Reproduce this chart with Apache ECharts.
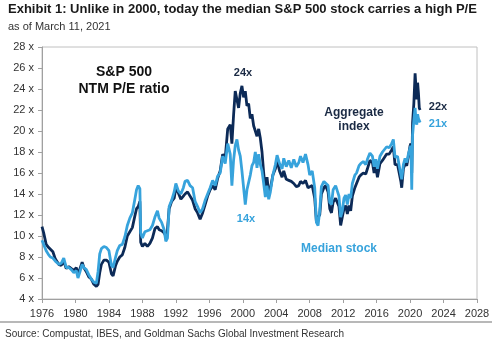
<!DOCTYPE html>
<html>
<head>
<meta charset="utf-8">
<script src="https://cdn.jsdelivr.net/npm/echarts@6/dist/echarts.min.js"></script>
<style>html,body{margin:0;padding:0;background:#fff;}#c{width:500px;height:341px;}</style>
</head>
<body>
<div id="c"></div>
<script>
const years = [1976.0,1976.2,1976.5,1976.8,1977.0,1977.3,1977.6,1978.0,1978.3,1978.6,1978.9,1979.2,1979.5,1979.8,1980.1,1980.3,1980.5,1980.8,1981.0,1981.3,1981.6,1981.9,1982.2,1982.5,1982.7,1982.9,1983.1,1983.4,1983.7,1984.0,1984.3,1984.5,1984.8,1985.0,1985.3,1985.6,1985.9,1986.2,1986.5,1986.8,1987.1,1987.3,1987.5,1987.7,1987.8,1988.0,1988.3,1988.6,1988.9,1989.2,1989.5,1989.8,1990.0,1990.3,1990.6,1990.8,1991.0,1991.2,1991.5,1991.8,1992.0,1992.3,1992.6,1992.9,1993.1,1993.4,1993.7,1994.0,1994.3,1994.6,1994.9,1995.2,1995.5,1995.8,1996.1,1996.4,1996.7,1997.0,1997.3,1997.6,1997.9,1998.2,1998.5,1998.7,1998.9,1999.1,1999.3,1999.5,1999.7,1999.9,2000.1,2000.3,2000.5,2000.7,2000.9,2001.1,2001.3,2001.5,2001.7,2001.9,2002.1,2002.3,2002.5,2002.7,2002.9,2003.1,2003.3,2003.6,2003.9,2004.1,2004.4,2004.7,2004.9,2005.2,2005.5,2005.8,2006.1,2006.4,2006.7,2006.9,2007.2,2007.5,2007.8,2008.0,2008.3,2008.6,2008.8,2009.0,2009.2,2009.4,2009.7,2009.9,2010.2,2010.4,2010.6,2010.8,2011.1,2011.3,2011.5,2011.7,2011.9,2012.1,2012.3,2012.5,2012.7,2012.9,2013.1,2013.4,2013.6,2013.9,2014.1,2014.4,2014.7,2014.9,2015.2,2015.5,2015.7,2015.9,2016.1,2016.4,2016.7,2016.9,2017.2,2017.5,2017.8,2018.0,2018.2,2018.5,2018.7,2018.9,2019.0,2019.2,2019.4,2019.6,2019.8,2020.0,2020.1,2020.2,2020.3,2020.45,2020.6,2020.7,2020.8,2020.9,2021.0,2021.1,2021.2];
const aggregateIndex = [10.9,10.3,9.2,8.9,9.0,8.5,7.8,7.3,7.2,7.6,6.9,7.1,6.9,6.7,7.0,6.3,6.8,7.5,7.0,6.6,6.1,5.9,5.4,5.2,5.4,6.5,7.3,7.7,7.7,7.5,6.4,6.2,7.2,7.6,8.0,8.2,8.9,10.0,10.4,10.8,11.9,12.6,12.8,13.3,9.4,9.0,9.3,9.0,9.3,9.8,10.7,10.9,10.6,10.5,10.3,10.0,10.6,12.6,13.3,13.6,14.6,14.1,13.5,13.8,14.0,14.2,13.8,13.4,12.6,12.2,11.6,12.2,13.0,13.8,14.4,14.8,14.4,15.5,16.2,17.8,17.4,20.2,20.6,18.8,21.5,23.8,23.0,22.2,23.6,24.3,23.2,23.8,22.4,22.6,21.2,21.6,20.5,20.6,19.5,20.2,19.3,18.0,16.0,14.4,15.6,14.0,14.5,15.8,16.4,17.2,16.2,15.6,16.2,15.4,15.3,15.2,15.0,14.7,14.8,15.2,15.0,15.3,14.6,14.5,14.8,13.6,11.4,11.8,12.0,14.0,14.6,14.8,14.2,12.6,12.2,13.2,13.6,13.6,12.8,11.0,11.8,12.6,12.9,12.1,12.9,12.4,13.8,14.6,15.0,15.6,15.8,16.0,15.9,16.4,17.2,17.0,16.0,16.6,15.6,16.9,17.2,17.3,17.8,17.8,18.2,18.5,16.8,16.8,16.9,15.2,14.6,16.4,16.9,16.7,17.6,18.6,18.8,16.0,20.8,22.6,25.5,24.2,23.0,24.6,23.6,22.2,22.0];
const medianStock = [9.6,9.2,8.6,8.2,8.0,7.9,7.6,7.3,7.4,7.9,7.0,7.0,6.8,6.5,6.7,6.0,6.5,7.3,7.0,6.8,6.3,5.9,5.6,5.5,6.6,8.3,8.8,9.0,8.9,8.6,7.2,7.0,8.0,8.6,9.1,9.2,9.9,11.0,11.7,12.2,13.5,14.4,14.8,14.5,10.3,9.8,10.4,10.5,10.6,11.0,11.8,12.4,11.7,11.3,10.6,9.5,9.8,12.8,13.4,14.2,15.0,14.3,14.0,14.6,15.2,15.3,14.8,14.6,13.3,12.8,12.2,12.6,13.4,14.0,14.6,15.3,14.8,15.7,16.0,17.6,16.9,18.8,17.8,14.8,17.2,18.6,19.2,18.2,17.6,16.2,14.6,13.0,14.4,14.4,15.8,16.7,17.0,18.0,16.5,17.8,16.8,16.2,15.0,13.7,14.8,13.5,14.2,15.8,16.8,17.7,16.9,16.4,17.4,16.6,17.2,16.5,17.3,16.6,17.0,17.6,17.0,17.8,16.8,15.8,16.2,14.6,11.3,11.0,12.4,14.7,15.2,15.3,14.8,13.2,13.0,14.4,14.8,14.9,13.8,11.8,12.4,13.6,13.9,13.0,14.0,13.6,15.0,15.8,16.0,16.7,16.9,17.1,16.8,17.3,17.9,17.6,16.6,17.3,16.4,17.6,18.0,18.1,18.5,18.4,18.8,19.2,17.5,17.6,17.5,15.8,15.4,16.8,17.4,17.0,17.8,18.4,18.6,14.4,19.6,21.0,22.2,21.0,20.6,21.6,21.2,21.0,20.8];

const F = 'Liberation Sans, Arial, sans-serif';
const DARK = '#0c2a57';
const LIGHT = '#37a3dc';

const chart = echarts.init(document.getElementById('c'), null, {renderer: 'canvas'});
chart.setOption({
  animation: false,
  backgroundColor: '#fff',
  title: [
    {text: 'Exhibit 1: Unlike in 2000, today the median S&P 500 stock carries a high P/E', left: 8, top: 3, padding: 0,
     textStyle: {fontFamily: F, fontSize: 13, fontWeight: 'bold', color: '#1a1a1a'}},
    {text: 'as of March 11, 2021', left: 8, top: 21, padding: 0,
     textStyle: {fontFamily: F, fontSize: 11, fontWeight: 'normal', color: '#333'}},
    {text: 'Source: Compustat, IBES, and Goldman Sachs Global Investment Research', left: 5, top: 329, padding: 0,
     textStyle: {fontFamily: F, fontSize: 10, fontWeight: 'normal', color: '#333'}}
  ],
  grid: {left: 42, right: 23, top: 47, bottom: 42, show: true, borderColor: '#c0c0c0', borderWidth: 1},
  xAxis: {
    type: 'value', min: 1976, max: 2028, interval: 4,
    axisLine: {show: true, lineStyle: {color: '#a0a0a0'}},
    axisTick: {show: true, length: 4, lineStyle: {color: '#a0a0a0'}},
    splitLine: {show: false},
    axisLabel: {fontFamily: F, fontSize: 11, color: '#333', margin: 9, formatter: v => String(v)}
  },
  yAxis: {
    type: 'value', min: 4, max: 28, interval: 2,
    axisLine: {show: true, lineStyle: {color: '#a0a0a0'}},
    axisTick: {show: true, length: 4, lineStyle: {color: '#a0a0a0'}},
    splitLine: {show: false},
    axisLabel: {fontFamily: F, fontSize: 11, color: '#333', margin: 8, formatter: '{value} x'}
  },
  series: [
    {name: 'Aggregate index', type: 'line', showSymbol: false, data: years.map((y, i) => [y, aggregateIndex[i]]),
     lineStyle: {color: DARK, width: 2.8}, z: 2},
    {name: 'Median stock', type: 'line', showSymbol: false, data: years.map((y, i) => [y, medianStock[i]]),
     lineStyle: {color: LIGHT, width: 2.8}, z: 3}
  ],
  graphic: [
    {type: 'line', shape: {x1: 0, y1: 322, x2: 492, y2: 322}, style: {stroke: '#b8b8b8', lineWidth: 2}},
    {type: 'text', x: 124, y: 72, style: {text: 'S&P 500', font: 'bold 14px ' + F, fill: '#111', align: 'center', verticalAlign: 'middle'}},
    {type: 'text', x: 124, y: 89, style: {text: 'NTM P/E ratio', font: 'bold 14px ' + F, fill: '#111', align: 'center', verticalAlign: 'middle'}},
    {type: 'text', x: 243, y: 73, style: {text: '24x', font: 'bold 11px ' + F, fill: '#1a2a44', align: 'center', verticalAlign: 'middle'}},
    {type: 'text', x: 354, y: 113, style: {text: 'Aggregate', font: 'bold 12px ' + F, fill: '#1a2a44', align: 'center', verticalAlign: 'middle'}},
    {type: 'text', x: 354, y: 127, style: {text: 'index', font: 'bold 12px ' + F, fill: '#1a2a44', align: 'center', verticalAlign: 'middle'}},
    {type: 'text', x: 246, y: 219, style: {text: '14x', font: 'bold 11px ' + F, fill: LIGHT, align: 'center', verticalAlign: 'middle'}},
    {type: 'text', x: 339, y: 249, style: {text: 'Median stock', font: 'bold 12px ' + F, fill: LIGHT, align: 'center', verticalAlign: 'middle'}},
    {type: 'text', x: 438, y: 107, style: {text: '22x', font: 'bold 11px ' + F, fill: '#1a2a44', align: 'center', verticalAlign: 'middle'}},
    {type: 'text', x: 438, y: 124, style: {text: '21x', font: 'bold 11px ' + F, fill: LIGHT, align: 'center', verticalAlign: 'middle'}}
  ]
});
</script>
</body>
</html>
